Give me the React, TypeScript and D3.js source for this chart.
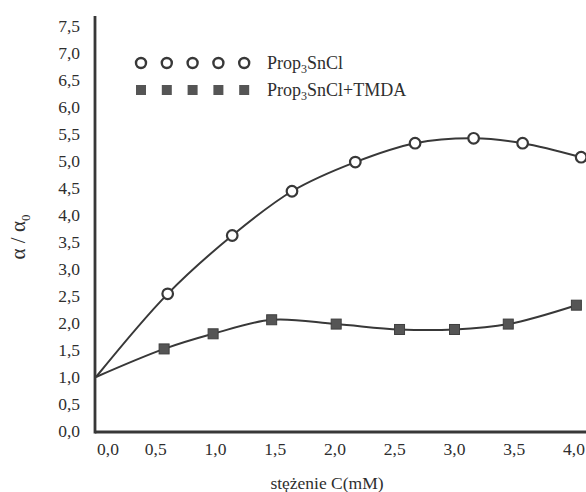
import { useEffect, useRef } from 'react'
import * as d3 from 'd3'

// values
const xTicks = [0, 0.5, 1.0, 1.5, 2.0, 2.5, 3.0, 3.5, 4.0]
const yTicks = [0, 0.5, 1.0, 1.5, 2.0, 2.5, 3.0, 3.5, 4.0, 4.5, 5.0, 5.5, 6.0, 6.5, 7.0, 7.5]

const circleX = [0.6, 1.14, 1.64, 2.17, 2.67, 3.16, 3.57, 4.06]
const circleY = [2.54, 3.62, 4.44, 4.98, 5.33, 5.42, 5.33, 5.07]

const squareX = [0.57, 0.98, 1.47, 2.01, 2.54, 3.0, 3.45, 4.02]
const squareY = [1.52, 1.8, 2.06, 1.98, 1.88, 1.88, 1.98, 2.33]

const origin = { x: 0, y: 1.0 }

const seriesNames = ['Prop3SnCl', 'Prop3SnCl+TMDA']

const fmt = (v: number) => v.toFixed(1).replace('.', ',')

export default function App() {
  const svgRef = useRef<SVGSVGElement | null>(null)

  useEffect(() => {
    if (!svgRef.current) return
    const width = 586
    const height = 492
    const ink = '#383838'
    const font = '"Liberation Serif", "Times New Roman", serif'

    const svg = d3.select(svgRef.current)
    svg.selectAll('*').remove()
    svg.attr('width', width).attr('height', height).attr('viewBox', `0 0 ${width} ${height}`)

    svg.append('rect').attr('width', width).attr('height', height).attr('fill', '#ffffff')

    const x = d3.scaleLinear().domain([0, 4]).range([96, 574])
    const y = d3.scaleLinear().domain([0, 7.5]).range([431, 26])

    const circles = circleX.map((cx, i) => ({ x: cx, y: circleY[i] }))
    const squares = squareX.map((sx, i) => ({ x: sx, y: squareY[i] }))

    const line = d3.line<{ x: number; y: number }>()
      .x(d => x(d.x))
      .y(d => y(d.y))
      .curve(d3.curveCatmullRom.alpha(0.5))

    // curves
    svg.append('path')
      .attr('d', line([origin, ...circles]))
      .attr('fill', 'none')
      .attr('stroke', ink)
      .attr('stroke-width', 2)

    svg.append('path')
      .attr('d', line([origin, ...squares]))
      .attr('fill', 'none')
      .attr('stroke', ink)
      .attr('stroke-width', 2)

    // axes
    svg.append('line')
      .attr('x1', 95).attr('x2', width)
      .attr('y1', y(0) + 1).attr('y2', y(0) + 1)
      .attr('stroke', ink).attr('stroke-width', 2.8)
    svg.append('line')
      .attr('x1', 95).attr('x2', 95)
      .attr('y1', 16).attr('y2', y(0) + 2.4)
      .attr('stroke', ink).attr('stroke-width', 2.8)

    // markers
    svg.selectAll('.sq')
      .data(squares)
      .enter().append('rect')
      .attr('x', d => x(d.x) - 5)
      .attr('y', d => y(d.y) - 5)
      .attr('width', 10).attr('height', 10)
      .attr('fill', '#555555')
      .attr('stroke', '#3f3f3f')
      .attr('stroke-width', 1)

    svg.selectAll('.ci')
      .data(circles)
      .enter().append('circle')
      .attr('cx', d => x(d.x))
      .attr('cy', d => y(d.y))
      .attr('r', 5.3)
      .attr('fill', '#ffffff')
      .attr('stroke', ink)
      .attr('stroke-width', 2.2)

    // y tick labels
    svg.selectAll('.yt')
      .data(yTicks)
      .enter().append('text')
      .attr('x', 80)
      .attr('y', d => y(d) + 5.5)
      .attr('text-anchor', 'end')
      .attr('font-family', font)
      .attr('font-size', 17.5)
      .attr('fill', '#2e2e2e')
      .text(d => fmt(d))

    // x tick labels
    svg.selectAll('.xt')
      .data(xTicks)
      .enter().append('text')
      .attr('x', d => x(d) + (d === 0 ? 12 : 0))
      .attr('y', 455)
      .attr('text-anchor', 'middle')
      .attr('font-family', font)
      .attr('font-size', 17.5)
      .attr('fill', '#2e2e2e')
      .text(d => fmt(d))

    // axis titles
    svg.append('text')
      .attr('x', 327).attr('y', 489)
      .attr('text-anchor', 'middle')
      .attr('font-family', font)
      .attr('font-size', 17.5)
      .attr('fill', '#2e2e2e')
      .text('stężenie C(mM)')

    const yt = svg.append('text')
      .attr('transform', 'translate(25,237) rotate(-90)')
      .attr('text-anchor', 'middle')
      .attr('font-family', font)
      .attr('font-size', 21)
      .attr('fill', '#2e2e2e')
    yt.append('tspan').text('α / α')
    yt.append('tspan').attr('font-size', 13).attr('dy', 5).text('0')

    // legend
    const legendRows = [63, 90]
    legendRows.forEach((ly, row) => {
      d3.range(5).forEach(i => {
        const lx = 141 + i * 25.8
        if (row === 0) {
          svg.append('circle')
            .attr('cx', lx).attr('cy', ly).attr('r', 5)
            .attr('fill', '#fff').attr('stroke', ink).attr('stroke-width', 2.4)
        } else {
          svg.append('rect')
            .attr('x', lx - 5).attr('y', ly - 5).attr('width', 10).attr('height', 10)
            .attr('fill', '#555555')
        }
      })
      const name = seriesNames[row]
      const t = svg.append('text')
        .attr('x', 267).attr('y', ly + 6)
        .attr('font-family', font)
        .attr('font-size', 18)
        .attr('fill', '#2e2e2e')
      t.append('tspan').text(name.slice(0, 4))
      t.append('tspan').attr('font-size', 12).attr('dy', 4).text(name.slice(4, 5))
      t.append('tspan').attr('dy', -4).text(name.slice(5))
    })
  }, [])

  return (
    <div style={{ position: 'absolute', left: 0, top: 0 }}>
      <svg ref={svgRef} style={{ display: 'block' }} />
    </div>
  )
}
